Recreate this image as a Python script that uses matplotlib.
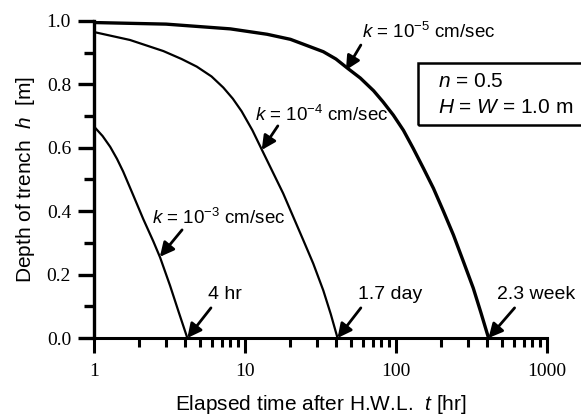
import numpy as np
import matplotlib
matplotlib.use('Agg')
import matplotlib.pyplot as plt
from matplotlib.ticker import LogLocator, NullFormatter, FixedLocator, MultipleLocator
from matplotlib.patches import Rectangle

plt.rcParams['font.family'] = 'Liberation Sans'
plt.rcParams['mathtext.fontset'] = 'custom'
plt.rcParams['mathtext.rm'] = 'Liberation Sans'
plt.rcParams['mathtext.it'] = 'Liberation Sans:italic'

# 読み取りデータ (t [hr], h [m])
t_k3 = [1, 1.14, 1.28, 1.42, 1.56, 1.82, 2.12, 2.47, 2.74, 3.19, 3.62, 4.15]
h_k3 = [0.667, 0.637, 0.603, 0.565, 0.525, 0.45, 0.375, 0.305, 0.254, 0.165, 0.085, 0.0]

t_k4 = [1, 1.73, 2.88, 3.8, 4.79, 6.0, 7.18, 8.3, 9.5, 11.2, 13.2, 17.9, 24.3, 28.3,
        33, 37, 41]
h_k4 = [0.965, 0.94, 0.905, 0.88, 0.856, 0.825, 0.79, 0.755, 0.715, 0.655, 0.585,
        0.456, 0.309, 0.235, 0.15, 0.075, 0.0]

t_k5 = [1, 3, 8, 14, 20, 33, 40, 48, 58, 71, 82, 96, 112, 130, 152, 177, 206, 240,
        280, 325, 365, 410]
h_k5 = [0.995, 0.99, 0.975, 0.958, 0.942, 0.903, 0.88, 0.85, 0.82, 0.78, 0.745, 0.703,
        0.655, 0.598, 0.535, 0.472, 0.40, 0.325, 0.24, 0.157, 0.08, 0.0]

fig = plt.figure(figsize=(5.81, 4.19), dpi=100)
ax = fig.add_axes([0.1618, 0.1933, 0.7797, 0.7567])

ax.plot(t_k3, h_k3, 'k-', lw=1.6, solid_joinstyle='round')
ax.plot(t_k4, h_k4, 'k-', lw=1.6, solid_joinstyle='round')
ax.plot(t_k5, h_k5, 'k-', lw=2.4, solid_joinstyle='round')

ax.set_xscale('log')
ax.set_xlim(1, 1000)
ax.set_ylim(0, 1.0)

# 軸
for s in ['top', 'right']:
    ax.spines[s].set_visible(False)
ax.spines['left'].set_linewidth(2.4)
ax.spines['bottom'].set_linewidth(2.2)

ax.xaxis.set_major_locator(FixedLocator([1, 10, 100, 1000]))
ax.xaxis.set_minor_locator(LogLocator(base=10, subs=np.arange(2, 10)))
ax.xaxis.set_minor_formatter(NullFormatter())
ax.set_xticklabels(['1', '10', '100', '1000'])
ax.yaxis.set_minor_locator(MultipleLocator(0.1))
ax.set_yticks([0, 0.2, 0.4, 0.6, 0.8, 1.0])
ax.set_yticklabels(['0.0', '0.2', '0.4', '0.6', '0.8', '1.0'])

ax.tick_params(axis='x', which='major', direction='out', length=11, width=2.2, pad=7)
ax.tick_params(axis='x', which='minor', direction='out', length=6.5, width=2.2)
ax.tick_params(axis='y', which='major', direction='out', length=11.5, width=2.4, pad=5)
ax.tick_params(axis='y', which='minor', direction='out', length=7, width=2.4)
for lab in ax.get_xticklabels() + ax.get_yticklabels():
    lab.set_fontfamily('Liberation Serif')
    lab.set_fontsize(14)

ax.set_xlabel('Elapsed time after H.W.L.  $t$ [hr]', fontsize=15, labelpad=9)
ax.set_ylabel('Depth of trench  $h$  [m]', fontsize=15, labelpad=7)

arrow = dict(arrowstyle='-|>,head_length=0.6,head_width=0.3', color='k', lw=2,
             mutation_scale=14, shrinkA=0, shrinkB=0)

# k ラベル
ax.text(59.6, 0.965, r'$k$ = 10$^{-5}$ cm/sec', fontsize=13.5, va='center', ha='left')
ax.annotate('', xy=(46.6, 0.845), xytext=(58.5, 0.924), arrowprops=arrow)
ax.text(11.6, 0.703, r'$k$ = 10$^{-4}$ cm/sec', fontsize=13.5, va='center', ha='left')
ax.annotate('', xy=(12.9, 0.593), xytext=(16.5, 0.669), arrowprops=arrow)
ax.text(2.42, 0.379, r'$k$ = 10$^{-3}$ cm/sec', fontsize=13.5, va='center', ha='left')
ax.annotate('', xy=(2.73, 0.256), xytext=(3.83, 0.341), arrowprops=arrow)

# 到達時間
ax.text(5.69, 0.136, '4 hr', fontsize=14, va='center', ha='left')
ax.annotate('', xy=(4.15, 0.0), xytext=(5.95, 0.095), arrowprops=arrow, annotation_clip=False)
ax.text(56, 0.136, '1.7 day', fontsize=14, va='center', ha='left')
ax.annotate('', xy=(41, 0.0), xytext=(58.5, 0.095), arrowprops=arrow, annotation_clip=False)
ax.text(464, 0.136, '2.3 week', fontsize=14, va='center', ha='left', clip_on=False)
ax.annotate('', xy=(410, 0.0), xytext=(610, 0.095), arrowprops=arrow, annotation_clip=False)

# パラメータ枠
box = Rectangle((0.715, 0.672), 0.5, 0.1955, transform=ax.transAxes, fill=False,
                edgecolor='k', lw=1.8, clip_on=False)
ax.add_patch(box)
ax.text(0.759, 0.808, '$n$ = 0.5', transform=ax.transAxes, fontsize=15, va='center')
ax.text(0.759, 0.726, '$H$ = $W$ = 1.0 m', transform=ax.transAxes, fontsize=15, va='center')

plt.savefig('out.png', dpi=100)
plt.close()
